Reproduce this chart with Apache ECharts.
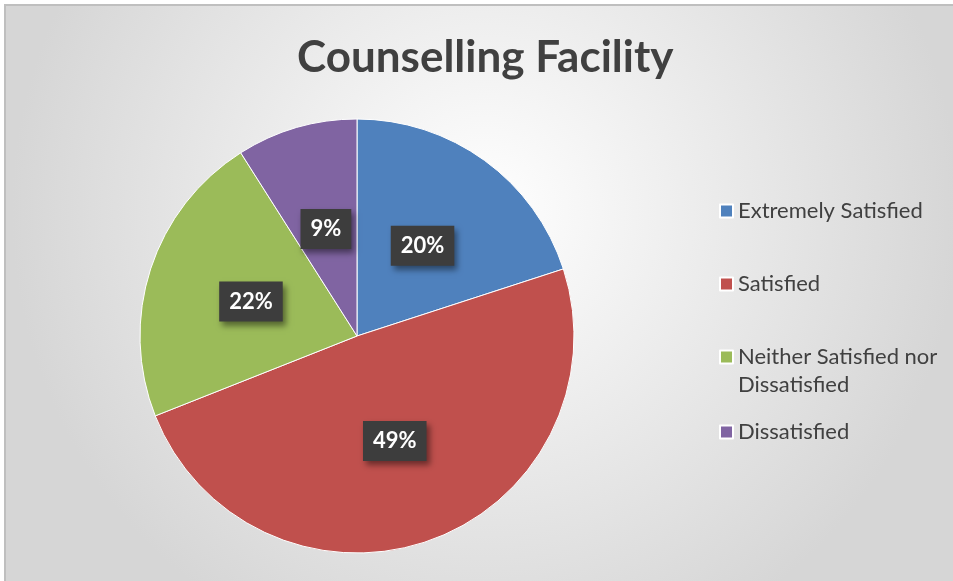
<!DOCTYPE html>
<html>
<head>
<meta charset="utf-8">
<title>Counselling Facility</title>
<script src="https://cdn.jsdelivr.net/npm/echarts@6/dist/echarts.min.js"></script>
<style>
  html, body { margin: 0; padding: 0; background: #fff; }
  #main { width: 953px; height: 581px; }
</style>
</head>
<body>
<div id="main"></div>
<script>
var categories = ['Extremely Satisfied', 'Satisfied', 'Neither Satisfied nor Dissatisfied', 'Dissatisfied'];
var values = [20, 49, 22, 9];
var colors = ['#4F81BD', '#C0504D', '#9BBB59', '#8064A2'];
// legend rows (top of each item box)
var legendTops = [197, 270, 315, 418];

function getChart() {
    var dom = document.getElementById('main');
    var myChart = echarts.init(dom);
    var option = null;

    var pieData = [];
    for (var i = 0; i < categories.length; i++) {
        pieData.push({ name: categories[i], value: values[i], itemStyle: { color: colors[i] } });
    }

    var legends = [];
    for (var j = 0; j < categories.length; j++) {
        legends.push({
            data: [categories[j]],
            orient: 'vertical',
            left: 719,
            top: legendTops[j],
            padding: 0,
            icon: 'rect',
            itemWidth: 13,
            itemHeight: 13,
            selectedMode: false,
            formatter: function (name) {
                if (name === 'Neither Satisfied nor Dissatisfied') {
                    // blank first line keeps the square beside the first text line
                    return '\nNeither Satisfied nor\nDissatisfied';
                }
                return name;
            },
            textStyle: {
                color: '#404040',
                fontFamily: 'Lato',
                fontSize: 22,
                lineHeight: 28,
                padding: [0, 0, 0, 0]
            }
        });
    }

    option = {
        animation: false,
        graphic: [{
            type: 'rect',
            silent: true,
            z: -10,
            shape: { x: 5, y: 5, width: 960, height: 590 },
            style: {
                fill: new echarts.graphic.RadialGradient(0.5, 0.35, 0.8, [
                    { offset: 0, color: '#ffffff' },
                    { offset: 1, color: '#d6d6d6' }
                ]),
                stroke: '#bfbfbf',
                lineWidth: 2
            }
        }],
        title: {
            text: 'Counselling Facility',
            left: 297,
            top: 36,
            padding: 0,
            textStyle: {
                color: '#404040',
                fontFamily: 'Lato',
                fontWeight: 'bold',
                fontSize: 44
            }
        },
        legend: legends,
        series: [{
            type: 'pie',
            center: [357, 336],
            radius: 217,
            startAngle: 90,
            clockwise: true,
            itemStyle: { borderColor: '#ffffff', borderWidth: 1 },
            label: {
                show: true,
                position: 'inside',
                formatter: '{c}%',
                color: '#ffffff',
                fontFamily: 'Lato',
                fontWeight: 'bold',
                fontSize: 22,
                backgroundColor: '#3d3d3d',
                padding: [10, 10, 8, 10],
                shadowColor: 'rgba(0,0,0,0.45)',
                shadowBlur: 6,
                shadowOffsetX: 3,
                shadowOffsetY: 4
            },
            labelLine: { show: false },
            emphasis: { disabled: true },
            data: pieData
        }]
    };
    if (option && typeof option === "object") {
        myChart.setOption(option, true);
    }
}
getChart();
</script>
</body>
</html>
